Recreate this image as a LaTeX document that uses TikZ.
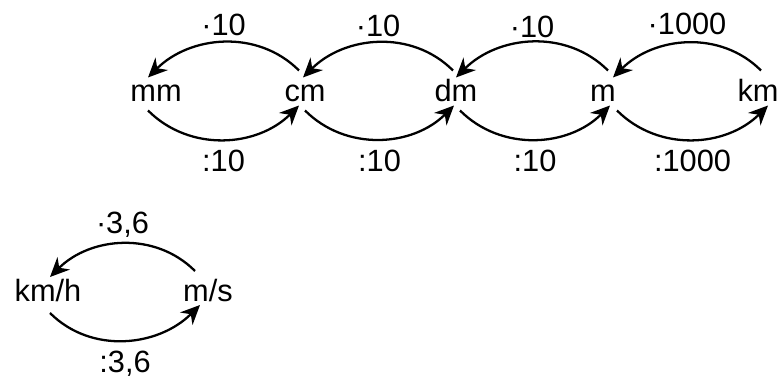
\documentclass[tikz,border=0pt]{standalone}
\usepackage{fontspec}
\setmainfont{Liberation Sans}
\usetikzlibrary{arrows.meta}

\begin{document}
\begin{tikzpicture}[x=0.02cm, y=0.02cm]
            \tikzstyle{unit} = [inner sep=0pt, anchor=base, font=\fontsize{17.5}{20}\selectfont]
            \tikzstyle{factor} = [inner sep=0pt, font=\fontsize{17.5}{20}\selectfont]
            \tikzstyle{conv} = [->, >={Stealth[length=11pt, width=10pt]}, line width=1.3pt]
            \useasboundingbox (0,0) rectangle (780,378);

            \node[unit] (mm) at (156, 276.5) {mm};
            \node[unit] (cm) at (305, 276.5) {cm};
            \node[unit] (dm) at (456, 276.5) {dm};
            \node[unit] (m) at (603, 276.5) {m};
            \node[unit] (km) at (758, 276.5) {km};

            \node[unit] (kmh) at (48, 76) {km/h};
            \node[unit] (ms) at (208, 76) {m/s};

            % multiply (top arcs)
            \draw[conv] ([shift={(-6,31)}]cm.base) to[out=135, in=45] node[factor, above=3pt] {·10} ([shift={(-8,24)}]mm.base);
            \draw[conv] ([shift={(-3,31)}]dm.base) to[out=135, in=45] node[factor, above=3pt] {·10} ([shift={(-2,24)}]cm.base);
            \draw[conv] ([shift={(5,31)}]m.base) to[out=135, in=45] node[factor, above=2pt] {·10} ([shift={(0,24)}]dm.base);
            \draw[conv] ([shift={(3,31)}]km.base) to[out=135, in=45] node[factor, above=4pt] {·1000} ([shift={(10,24)}]m.base);

            % divide (bottom arcs)
            \draw[conv] ([shift={(-8,-9)}]mm.base) to[out=-45, in=-135] node[factor, below=5.5pt] {:10} ([shift={(-6,-4)}]cm.base);
            \draw[conv] ([shift={(0,-9)}]cm.base) to[out=-45, in=-135] node[factor, below=5.5pt] {:10} ([shift={(-2,-4)}]dm.base);
            \draw[conv] ([shift={(4,-9)}]dm.base) to[out=-45, in=-135] node[factor, below=5.5pt] {:10} ([shift={(7,-4)}]m.base);
            \draw[conv] ([shift={(14,-9)}]m.base) to[out=-45, in=-135] node[factor, below=5.5pt] {:1000} ([shift={(10,-4)}]km.base);

            % speed
            \draw[conv] ([shift={(-13,31)}]ms.base) to[out=135, in=45] node[factor, above=3pt] {·3,6} ([shift={(2,25)}]kmh.base);
            \draw[conv] ([shift={(2,-11)}]kmh.base) to[out=-45, in=-135] node[factor, below=5.5pt] {:3,6} ([shift={(-8,-3)}]ms.base);
        \end{tikzpicture}
\end{document}
